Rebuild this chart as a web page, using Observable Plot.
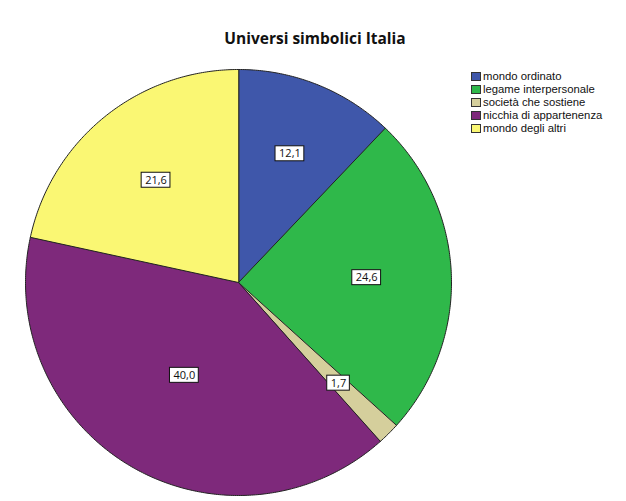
<!DOCTYPE html>
<html>
<head>
<meta charset="utf-8">
<script src="https://cdn.jsdelivr.net/npm/d3@7"></script>
<script src="https://cdn.jsdelivr.net/npm/@observablehq/plot@0.6"></script>
<style>
  html, body { margin: 0; padding: 0; background: #fff; }
  #wrap { position: relative; width: 626px; height: 501px; overflow: hidden; font-family: "Open Sans", sans-serif; }
  #title { position: absolute; left: 0; width: 626px; top: 27px; text-align: center; padding-left: 2px; font-weight: bold; font-size: 15.5px; color: #111; }
  #legend { position: absolute; left: 471px; top: 70px; font-family: "Liberation Sans", Arial, sans-serif; font-size: 11.3px; line-height: 13px; color: #111; }
  .row { display: flex; align-items: center; height: 13px; white-space: nowrap; }
  .row span { line-height: 13px; display: inline-block; height: 13px; }
  .sw { width: 10px; height: 9px; border: 1px solid #333; margin-right: 2px; box-sizing: border-box; }
  #chart { position: absolute; left: 0; top: 0; }
</style>
</head>
<body>
<div id="wrap">
  <div id="chart"></div>
  <div id="title">Universi simbolici Italia</div>
  <div id="legend"></div>
</div>
<script>
const categories = ["mondo ordinato", "legame interpersonale", "società che sostiene", "nicchia di appartenenza", "mondo degli altri"];
const values = [12.1, 24.6, 1.7, 40.0, 21.6];
const colors = ["#3F57AA", "#2FB84A", "#D5CF9C", "#7E297B", "#FAF773"];

const arcs = d3.pie().sort(null).value(d => d)(values);

// slice outlines in unit-circle space
const slicePts = [];
arcs.forEach((a, i) => {
  slicePts.push({cat: categories[i], x: 0, y: 0});
  const n = Math.max(4, Math.ceil((a.endAngle - a.startAngle) / 0.01));
  for (let k = 0; k <= n; k++) {
    const t = a.startAngle + (a.endAngle - a.startAngle) * k / n;
    slicePts.push({cat: categories[i], x: Math.sin(t), y: Math.cos(t)});
  }
});

const R = 213; // pixel radius, for label box sizes
// labels at each sector's area centroid
const labels = arcs.map((a, i) => {
  const m = (a.startAngle + a.endAngle) / 2;
  const span = a.endAngle - a.startAngle;
  const r = 4 * Math.sin(span / 2) / (3 * span);
  const txt = values[i].toFixed(1).replace(".", ",");
  return {cat: categories[i], x: r * Math.sin(m), y: r * Math.cos(m), txt, hw: (txt.length * 6.2 + 4) / 2 / R, hh: 7.5 / R};
});

const chart = Plot.plot({
  width: 626,
  height: 501,
  marginLeft: 25,
  marginRight: 175,
  marginTop: 69,
  marginBottom: 6,
  x: {domain: [-1, 1], axis: null},
  y: {domain: [-1, 1], axis: null},
  color: {domain: categories, range: colors},
  style: {fontFamily: "'Open Sans', sans-serif", background: "white"},
  marks: [
    Plot.line(slicePts, {x: "x", y: "y", z: "cat", fill: "cat", stroke: "#222", strokeWidth: 1, curve: "linear-closed"}),
    Plot.rect(labels, {x1: d => d.x - d.hw, x2: d => d.x + d.hw, y1: d => d.y - d.hh, y2: d => d.y + d.hh, fill: "white", stroke: "#111", strokeWidth: 1}),
    Plot.text(labels, {x: "x", y: "y", text: "txt", fontSize: 11, fill: "#111"})
  ]
});
document.getElementById("chart").appendChild(chart);

const leg = document.getElementById("legend");
categories.forEach((c, i) => {
  const row = document.createElement("div");
  row.className = "row";
  const sw = document.createElement("div");
  sw.className = "sw";
  sw.style.background = colors[i];
  const t = document.createElement("span");
  t.textContent = c;
  row.appendChild(sw);
  row.appendChild(t);
  leg.appendChild(row);
});
</script>
</body>
</html>
